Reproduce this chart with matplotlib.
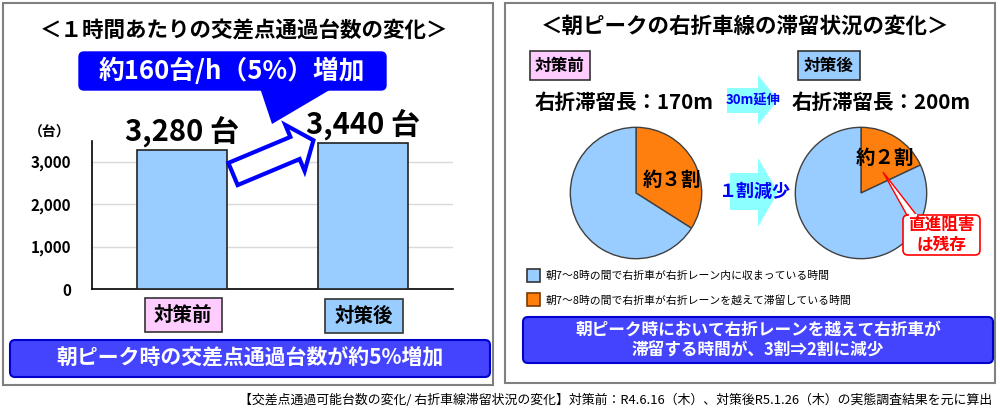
import matplotlib
matplotlib.use('Agg')
import matplotlib.pyplot as plt
from matplotlib.patches import FancyBboxPatch, Polygon, Rectangle, FancyArrow

plt.rcParams['font.family'] = ['Noto Sans CJK JP', 'DejaVu Sans']

# datos
categorias = ['対策前', '対策後']
台数 = [3280, 3440]
yticks = [0, 1000, 2000, 3000]
ytick_labels = ['0', '1,000', '2,000', '3,000']

# proporcion de tiempo (naranja = sobrepasa el carril, azul = dentro)
pie_antes = [34, 66]
pie_despues = [18, 82]
pie_labels = ['約３割', '約２割']
leyenda = ['朝7～8時の間で右折車が右折レーン内に収まっている時間',
           '朝7～8時の間で右折車が右折レーンを越えて滞留している時間']

AZUL_BARRA = '#99CCFF'
NARANJA = '#FF7F0E'
AZUL_BANNER = '#4444FF'
ROSA = '#FFCCFF'
CYAN = '#8CFFFF'

W, H = 1000, 415
fig = plt.figure(figsize=(10, 4.15), dpi=100)


def frac(x0, y0, x1, y1):
    # pixeles -> fraccion de figura
    return [x0 / W, 1 - y1 / H, (x1 - x0) / W, (y1 - y0) / H]


# ---- grafico de barras ----
ax = fig.add_axes(frac(92, 141, 453, 289))
ax.bar([0, 1], 台数, width=0.5, color=AZUL_BARRA, edgecolor='#222222', lw=1.2, zorder=3)
ax.set_xlim(-0.5, 1.5)
ax.set_ylim(0, 3490)
ax.set_yticks(yticks)
ax.set_yticklabels(ytick_labels, fontsize=11, fontweight='bold')
ax.set_xticks([])
ax.tick_params(axis='y', length=0, pad=15)
for s in ['top', 'right']:
    ax.spines[s].set_visible(False)
ax.spines['left'].set_lw(1.2)
ax.spines['bottom'].set_lw(1.2)
ax.grid(axis='y', color='#D9D9D9', lw=1, zorder=0)
ax.set_facecolor('none')
for i, v in enumerate(台数):
    ax.text(i, v + 70, f'{v:,} 台', ha='center', va='bottom', fontsize=21,
            fontweight='bold', zorder=5)

# ---- graficos de torta ----
for (cx, datos) in [(636, pie_antes), (861, pie_despues)]:
    axp = fig.add_axes(frac(cx - 67, 126, cx + 67, 260))
    axp.pie(datos, colors=[NARANJA, AZUL_BARRA], startangle=90, counterclock=False,
            wedgeprops=dict(edgecolor='#404040', lw=1))
    axp.set_xlim(-1.02, 1.02)
    axp.set_ylim(-1.02, 1.02)

# ---- capa de anotaciones en pixeles ----
ov = fig.add_axes([0, 0, 1, 1])
ov.set_xlim(0, W)
ov.set_ylim(H, 0)
ov.axis('off')
ov.patch.set_visible(False)


def caja(x0, y0, x1, y1, fc, ec, lw=1.2, r=0):
    if r > 0:
        p = FancyBboxPatch((x0 + r, y0 + r), x1 - x0 - 2 * r, y1 - y0 - 2 * r,
                           boxstyle=f'round,pad={r}', fc=fc, ec=ec, lw=lw)
    else:
        p = Rectangle((x0, y0), x1 - x0, y1 - y0, fc=fc, ec=ec, lw=lw)
    ov.add_patch(p)


# marcos
caja(3, 3, 493, 385, 'none', '#808080', lw=1.5)
caja(505, 3, 995, 383, 'none', '#808080', lw=1.5)

# titulos
ov.text(244, 31, '＜１時間あたりの交差点通過台数の変化＞', ha='center', va='center',
        fontsize=15.5, fontweight='bold')
ov.text(745, 26, '＜朝ピークの右折車線の滞留状況の変化＞', ha='center', va='center',
        fontsize=15.5, fontweight='bold')

# globo azul
caja(79, 52, 386, 90, '#0000FF', '#0000FF', lw=1, r=5)
ov.add_patch(Polygon([(260, 88), (333, 88), (272, 124)], closed=True, fc='#0000FF', ec='none'))
ov.text(232, 71, '約160台/h（5%）増加', ha='center', va='center', fontsize=18.5,
        fontweight='bold', color='white')

# flecha hueca
ov.add_patch(FancyArrow(233, 174, 62, -26, width=24, head_width=50, head_length=20,
                        length_includes_head=False, fc='white', ec='#0000FF', lw=3, zorder=6))
ov.text(50, 133, '（台）', ha='center', va='center', fontsize=10, fontweight='bold')

# categorias bajo las barras
caja(145, 298, 222, 332, ROSA, '#333333')
caja(325, 299, 403, 333, AZUL_BARRA, '#333333')
ov.text(183, 315, categorias[0], ha='center', va='center', fontsize=14, fontweight='bold')
ov.text(364, 316, categorias[1], ha='center', va='center', fontsize=14, fontweight='bold')

# banner izquierdo
caja(10, 340, 490, 377, AZUL_BANNER, '#0000CC', lw=1.5, r=5)
ov.text(250, 358, '朝ピーク時の交差点通過台数が約5%増加', ha='center', va='center',
        fontsize=15, fontweight='bold', color='white')

# panel derecho: etiquetas
caja(530, 51, 590, 80, ROSA, '#333333')
caja(798, 51, 860, 80, AZUL_BARRA, '#333333')
ov.text(560, 66, categorias[0], ha='center', va='center', fontsize=12, fontweight='bold')
ov.text(829, 66, categorias[1], ha='center', va='center', fontsize=12, fontweight='bold')
ov.text(535, 102, '右折滞留長：170m', ha='left', va='center', fontsize=14.8, fontweight='bold')
ov.text(792, 102, '右折滞留長：200m', ha='left', va='center', fontsize=14.8, fontweight='bold')

# flechas cyan
ov.add_patch(Polygon([(727, 88), (758, 88), (758, 75), (778, 100), (758, 125), (758, 113),
                      (727, 113)], closed=True, fc=CYAN, ec='none'))
ov.text(753, 101, '30m延伸', ha='center', va='center', fontsize=9.5, fontweight='bold',
        color='#0000FF')
ov.add_patch(Polygon([(730, 173), (758, 173), (758, 158), (778, 192), (758, 227), (758, 210),
                      (730, 210)], closed=True, fc=CYAN, ec='none'))
ov.text(755, 191, '１割減少', ha='center', va='center', fontsize=13, fontweight='bold',
        color='#0000FF')

# etiquetas de torta
ov.text(672, 180, pie_labels[0], ha='center', va='center', fontsize=14, fontweight='bold')
ov.text(885, 158, pie_labels[1], ha='center', va='center', fontsize=14, fontweight='bold')

# globo rojo
ov.add_patch(Polygon([(883, 172), (908, 217), (918, 217)], closed=True, fc='white',
                     ec='#FF0000', lw=1))
caja(903, 215, 980, 255, 'white', '#FF0000', lw=1.2, r=5)
ov.add_patch(Rectangle((909, 214), 8, 3, fc='white', ec='none'))
ov.text(941, 235, '直進阻害\nは残存', ha='center', va='center', fontsize=12,
        fontweight='bold', color='#FF0000', linespacing=1.15)

# leyenda
caja(527, 269, 540, 282, AZUL_BARRA, '#333333')
caja(527, 293, 540, 306, NARANJA, '#7a3a00')
ov.text(546, 276, leyenda[0], ha='left', va='center', fontsize=7.8)
ov.text(546, 300, leyenda[1], ha='left', va='center', fontsize=7.8)

# banner derecho
caja(523, 317, 993, 363, AZUL_BANNER, '#0000CC', lw=1.5, r=5)
ov.text(758, 340, '朝ピーク時において右折レーンを越えて右折車が\n滞留する時間が、3割⇒2割に減少',
        ha='center', va='center', fontsize=12, fontweight='bold', color='white',
        linespacing=1.25)

# nota al pie
ov.text(992, 400, '【交差点通過可能台数の変化/ 右折車線滞留状況の変化】対策前：R4.6.16（木）、'
        '対策後R5.1.26（木）の実態調査結果を元に算出', ha='right', va='center', fontsize=9.3)

fig.savefig('out.png', dpi=100)
